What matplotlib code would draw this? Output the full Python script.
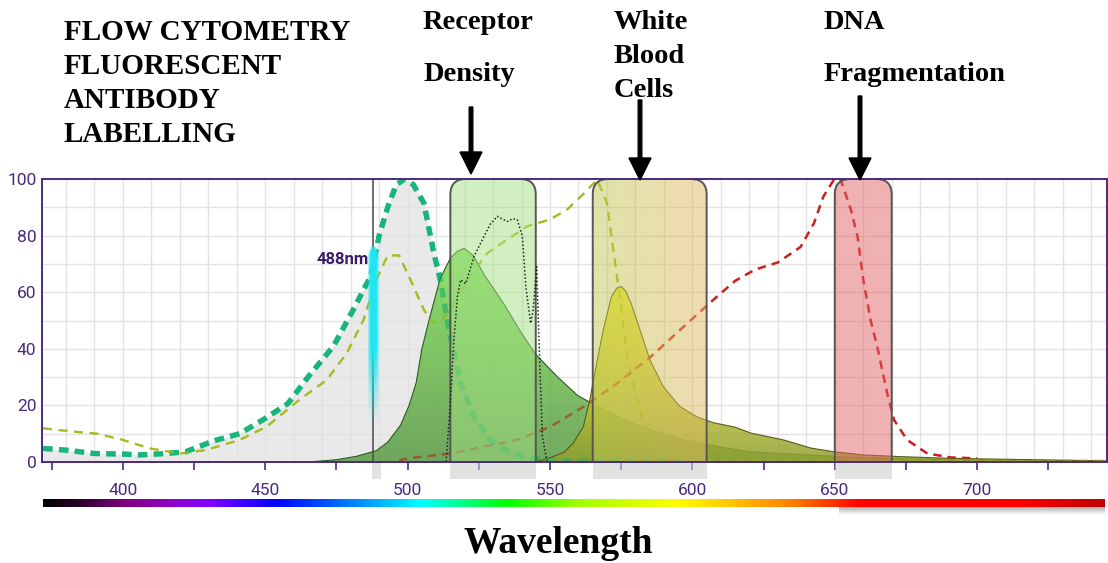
import numpy as np
import matplotlib.pyplot as plt
from matplotlib.colors import LinearSegmentedColormap, to_rgba
from matplotlib.patches import Polygon, FancyBboxPatch, Rectangle

W, H = 1108, 563

# spectra: wavelength (nm) and relative intensity (%)
fitc_ex_nm = [372, 380, 390, 400, 406, 415, 422, 432, 441, 450, 458, 465, 474, 481, 487,
              490, 493, 496, 499, 502, 505.7, 509.2, 511.5, 514.5, 518.6, 523.3, 529,
              535, 541, 548, 560, 600]
fitc_ex = [4.8, 4.2, 3.0, 2.8, 2.5, 3.0, 3.6, 7.5, 10, 15.4, 20.7, 30, 41, 54, 65.6,
           80, 90, 98, 100, 98, 91.5, 73.8, 64.4, 46.7, 27.8, 16, 7.8,
           4.2, 1.9, 0.6, 0.3, 0.3]

pe_ex_nm = [372, 383, 391, 400, 409.5, 420, 429, 441, 450.5, 462, 471.6, 478.6, 484.5,
            489, 493, 497, 501, 505.7, 509, 511.6, 515, 521, 528, 535, 542, 550, 556,
            562, 566.6, 570, 572.4, 574.8, 577, 579.4, 583, 586.5, 590, 600, 650, 700, 745]
pe_ex = [11.9, 10.7, 10, 7.8, 4.8, 3, 4.2, 7.8, 12.5, 22, 29, 38.4, 50.2,
         64.4, 73, 73, 64.4, 53.8, 49, 50, 53.8, 64.4, 73.8, 78.6, 83.3, 85.7, 89.2,
         95, 99.8, 91.5, 73.8, 56, 37.3, 26.6, 13.7, 5.4, 1.9, 0.8, 0.5, 0.4, 0.4]

fitc_em_nm = [465, 475, 482, 489, 493, 497.5, 500.5, 503, 505, 508, 511.5, 515, 517.5,
              519.8, 523, 527, 533.7, 540, 545, 552.7, 559.7, 566.7, 573.7, 585.4,
              597, 608.8, 620.4, 640, 660, 680, 700, 745]
fitc_em = [0, 0.8, 2, 4, 7, 13, 20, 28, 40, 52, 65, 72, 74.5,
           75.5, 73, 66, 56, 45.5, 38, 30, 23.5, 19.6, 16, 11.3,
           7.8, 5.4, 3.6, 2.5, 1.5, 1.0, 0.5, 0.2]

pe_em_nm = [545, 550, 555, 558.2, 561.7, 564, 566.4, 568.7, 571.6, 573.5, 575, 576.5,
            578.5, 581.6, 585.1, 589.8, 595.6, 601.5, 607.3, 615, 620.6, 632, 641.7,
            649.8, 660, 673, 690, 708, 745]
pe_em = [0, 1.5, 3.5, 6.7, 12.5, 22, 35, 46.7, 58.5, 61.5, 62, 60.5,
         56, 46.7, 36, 26.6, 19.6, 16, 13.9, 12.3, 10.2, 7.8, 4.9,
         3.6, 2.5, 1.9, 1.3, 1.0, 0.4]

filter_nm = [372, 513.5, 515, 516.3, 517.5, 518.6, 520.4, 523.3, 526.8, 529, 531.5, 533,
             535, 537, 538.5, 540.3, 541.5, 543.2, 544.1, 545.3, 546.1, 547.3, 549, 745]
filter_t = [0, 0, 20.8, 44, 58.5, 64.4, 63, 72.6, 79.7, 84, 86.8, 86,
            85, 86, 85.6, 79.7, 62, 49, 53.8, 69, 44, 9, 0, 0]

dna_nm = [497, 500, 515, 526.8, 538.5, 550.2, 561.9, 573.6, 585.4, 597, 607, 615, 622,
          630, 638, 642.7, 646, 649.7, 652, 655.7, 658, 660, 662.6, 664.9, 668.4,
          670.8, 675.4, 682.5, 690.8, 700]
dna = [0.5, 1.3, 3, 5.4, 7.8, 12.5, 19.6, 27.8, 37.2, 47.9, 57, 64, 68,
       70.5, 76, 84.4, 93.8, 99.8, 100, 89, 79.7, 64.4, 50, 40.8, 24.3,
       14.9, 7.8, 3, 1.6, 1.3]

# band-pass filters (low, high)
bands = [(515, 545), (565, 605), (650, 670)]
band_colors = [['#a4e083', '#a4e083'], ['#c1c752', '#e0b861'], ['#e06464', '#e06464']]
laser_nm = 488

# visible spectrum colour stops
spec_nm = [372, 385, 400, 415, 430, 453, 480, 505, 520, 535, 560, 595, 615, 635, 650, 660, 715, 745]
spec_col = ['#000000', '#300030', '#800080', '#9000c0', '#8000ff', '#0000ff', '#0080ff',
            '#00ffff', '#00ff80', '#00ff00', '#a0ff00', '#ffff00', '#ffc000', '#ff8000',
            '#ff3000', '#ff0000', '#ff0000', '#c00000']

header_lines = ['FLOW CYTOMETRY', 'FLUORESCENT', 'ANTIBODY', 'LABELLING']
labels = [(['Receptor', 'Density'], 423, [29, 81], 471, 107, 174),
          (['White', 'Blood', 'Cells'], 614, [29, 63, 97], 640, 100, 180),
          (['DNA', 'Fragmentation'], 824, [29, 81], 860, 96, 180)]

PURPLE = '#4a2a80'
NARROW = ['Roboto', 'DejaVu Sans']
SERIF = ['Liberation Serif', 'DejaVu Serif']


def px_box(x0, y0, x1, y1):
    return [x0 / W, 1 - y1 / H, (x1 - x0) / W, (y1 - y0) / H]


def gradient_fill(ax, x, y, colors, alpha, z, edge):
    x = np.asarray(x, float)
    y = np.asarray(y, float)
    verts = np.column_stack([np.r_[x[0], x, x[-1]], np.r_[0, y, 0]])
    poly = Polygon(verts, closed=True, facecolor='none', edgecolor='none')
    ax.add_patch(poly)
    cmap = LinearSegmentedColormap.from_list('fill', colors)
    grad = np.linspace(0, 1, 256).reshape(-1, 1)
    im = ax.imshow(grad, cmap=cmap, aspect='auto', origin='lower', alpha=alpha,
                   extent=[x.min(), x.max(), 0, y.max()], zorder=z, interpolation='bilinear')
    im.set_clip_path(poly)
    ax.plot(x, y, color=edge, lw=0.8, zorder=z + 0.01)


fig = plt.figure(figsize=(W / 100, H / 100), dpi=100)
ax = fig.add_axes(px_box(42, 179, 1107, 462))

# grid
for gx in np.arange(380, 746, 10):
    ax.axvline(gx, color='#e2e2e2', lw=1, zorder=0.5)
for gy in np.arange(10, 100, 10):
    ax.axhline(gy, color='#e2e2e2', lw=1, zorder=0.5)

# excitation area
ax.fill_between(fitc_ex_nm, 0, fitc_ex, color='#e2e2e2', alpha=0.75, lw=0, zorder=1)

# dashed spectra: full strength underneath the fills, faint copy on top so they show through
dashed = [(fitc_ex_nm, fitc_ex, '#17b57a', 3.8, (0, (1.8, 1.2))),
          (pe_ex_nm, pe_ex, '#a9ba1e', 1.6, (0, (4, 3))),
          (dna_nm, dna, '#cc1f1f', 1.7, (0, (3.5, 2.6)))]
for xs, ys, c, lw, ls in dashed:
    ax.plot(xs, ys, color=c, lw=lw, ls=ls, zorder=1.5)
    ax.plot(xs, ys, color=c, lw=lw, ls=ls, alpha=0.45, zorder=3)

# emission spectra
gradient_fill(ax, fitc_em_nm, fitc_em, ['#5a9a45', '#6cbe4c', '#7ddc56'], 0.85, 2, '#2f5a22')
gradient_fill(ax, pe_em_nm, pe_em, ['#8e9e30', '#bcc030', '#d8d828', '#ecec20'], 0.85, 2.5, '#5a5a1a')

# filter bands
for (lo, hi), cols in zip(bands, band_colors):
    ax.add_patch(Rectangle((lo, -6), hi - lo, 6, facecolor='#d0d0d0', alpha=0.6,
                           lw=0, clip_on=False, zorder=3))
    patch = FancyBboxPatch((lo, -10), hi - lo, 110,
                           boxstyle='round,pad=0,rounding_size=5.5',
                           facecolor='none', edgecolor='#555555', lw=1.4, zorder=4.1)
    ax.add_patch(patch)
    grad = np.linspace(0, 1, 64).reshape(1, -1)
    im = ax.imshow(grad, cmap=LinearSegmentedColormap.from_list('band', cols),
                   aspect='auto', extent=[lo, hi, -10, 100], alpha=0.5, zorder=4,
                   interpolation='bilinear')
    im.set_clip_path(patch)

# 488 nm laser line
ax.axvline(laser_nm, color='#555555', lw=1.2, zorder=4.5)
ax.add_patch(Rectangle((laser_nm - 0.5, -6), 3, 6, facecolor='#d0d0d0', alpha=0.6,
                       lw=0, clip_on=False, zorder=3))
gv = np.linspace(0, 76, 300)
gh = np.linspace(-1, 1, 31)
a_v = np.clip((gv - 14) / 26, 0, 1)
a_h = np.clip(1.25 - gh ** 2, 0, 1)
cap = np.clip((76 - gv)[:, None] / 1.8 - (gh ** 2)[None, :] * 1.5 + 0.4, 0, 1)
glow = np.zeros((gv.size, gh.size, 4))
glow[..., :3] = to_rgba('#1ee6f0')[:3]
glow[..., 3] = a_v[:, None] * a_h[None, :] * cap
ax.imshow(glow, aspect='auto', origin='lower', extent=[laser_nm - 1.8, laser_nm + 1.8, 0, 76],
          zorder=6, interpolation='bilinear')
ax.text(laser_nm - 1.6, 71.5, '488nm', ha='right', va='center', fontsize=12,
        fontweight='bold', color='#3c1a6a', family=NARROW, zorder=8)

# filter transmission trace
ax.plot(filter_nm, filter_t, color='#222222', lw=1.1, ls=(0, (1, 1.4)), zorder=7.5)

ax.set_xlim(371.6, 745.6)
ax.set_ylim(0, 100)
xt = np.arange(375, 746, 25)
ax.set_xticks(xt)
ax.set_xticklabels([str(v) if v % 50 == 0 else '' for v in xt])
ax.set_yticks(np.arange(0, 101, 20))
ax.tick_params(axis='x', colors=PURPLE, length=6, width=1.2, pad=9, labelsize=12.5)
ax.tick_params(axis='y', colors=PURPLE, length=0, pad=4, labelsize=12.5)
for lab in ax.get_xticklabels() + ax.get_yticklabels():
    lab.set_family(NARROW)
for sp in ax.spines.values():
    sp.set_color(PURPLE)
    sp.set_linewidth(1.4)
    sp.set_zorder(9)

# visible spectrum strip
sax = fig.add_axes(px_box(43, 499, 1105, 507))
spec_cmap = LinearSegmentedColormap.from_list(
    'spec', [((v - spec_nm[0]) / (spec_nm[-1] - spec_nm[0]), c) for v, c in zip(spec_nm, spec_col)])
sax.imshow(np.linspace(0, 1, 800).reshape(1, -1), cmap=spec_cmap, aspect='auto',
           interpolation='bilinear')
sax.axis('off')
shax = fig.add_axes(px_box(839, 507, 1105, 515))
shade = np.zeros((20, 1, 4))
shade[..., :3] = 0.45
shade[:, 0, 3] = np.linspace(0.55, 0, 20)
shax.imshow(shade, aspect='auto', interpolation='bilinear')
shax.axis('off')

# headings and arrows
ov = fig.add_axes([0, 0, 1, 1], facecolor='none', zorder=10)
ov.set_xlim(0, W)
ov.set_ylim(H, 0)
ov.axis('off')
for i, line in enumerate(header_lines):
    ov.text(64, 40 + 34 * i, line, fontsize=21, fontweight='bold', family=SERIF,
            va='baseline', ha='left')
for words, x0, ys, ax_x, y0, y1 in labels:
    for w, yb in zip(words, ys):
        ov.text(x0, yb, w, fontsize=20.5, fontweight='bold', family=SERIF,
                va='baseline', ha='left')
    ov.arrow(ax_x, y0, 0, y1 - y0, width=3.6, head_width=22, head_length=22,
             length_includes_head=True, color='black')
ov.text(558, 553, 'Wavelength', fontsize=27, fontweight='bold', family=SERIF,
        va='baseline', ha='center')

fig.savefig('out.png', dpi=100)
